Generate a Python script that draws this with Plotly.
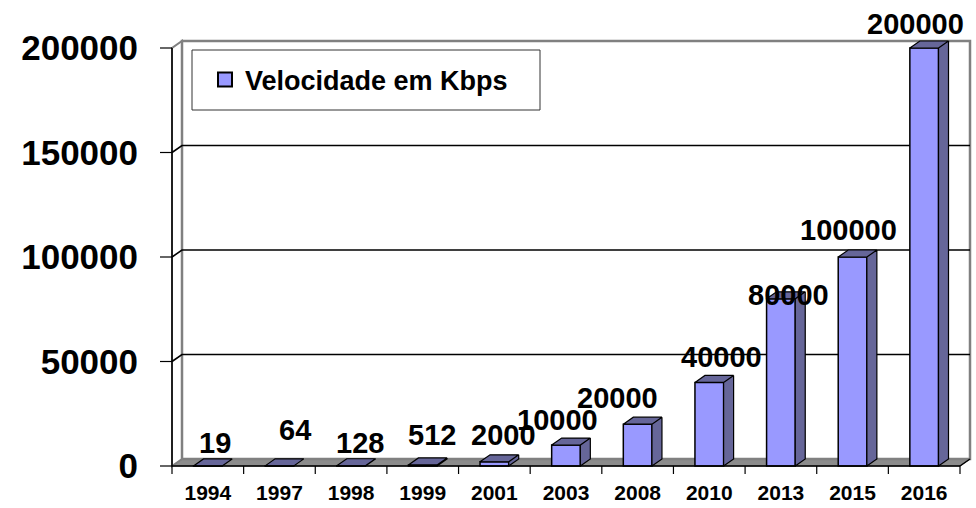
import plotly.graph_objects as go

# ---------------- data ----------------
years = ["1994", "1997", "1998", "1999", "2001", "2003", "2008", "2010", "2013", "2015", "2016"]
speeds_kbps = [19, 64, 128, 512, 2000, 10000, 20000, 40000, 80000, 100000, 200000]
y_tick_vals = [0, 50000, 100000, 150000, 200000]
y_tick_text = ["0", "50000", "100000", "150000", "200000"]
series_name = "Velocidade em Kbps"

# label nudges (pixels) mimicking the original label placement
label_dx_px = [7, 16, 9, 9, 9, -9, -20, 12, 8, -4, -9]
label_dy_px = [23, 36, 23, 30, 27, 25, 26, 25, 4, 27, 24]

# ---------------- style / geometry ----------------
FONT = "Liberation Sans, Arial, sans-serif"
FRONT = "#9999FF"
SIDE = "#666699"
FLOOR = "#8c8c8c"
WALL_EDGE = "#808080"
W, H = 976, 508
ML, MR, MT, MB = 156, 0, 30, 34
n = len(years)
x_front_left_px, x_front_right_px = 172, 960
y_zero_px, y_top_px = 466, 48
ux = (x_front_right_px - x_front_left_px) / n
ymax = y_tick_vals[-1]
uy = (y_zero_px - y_top_px) / ymax
x_range = [-0.5 - (x_front_left_px - ML) / ux, n - 0.5 + (W - MR - x_front_right_px) / ux]
y_range = [-(H - MB - y_zero_px) / uy, ymax + (y_top_px - MT) / uy]
DX = 10 / ux
DY = 7 / uy
HALF = 0.2
XL, XR = -0.5, n - 0.5

shapes = []


def path(points):
    return "M " + " L ".join(f"{x},{y}" for x, y in points) + " Z"


# floor
shapes.append(dict(type="path", xref="x", yref="y", layer="below",
                   path=path([(XL, 0), (XR, 0), (XR + DX, DY), (XL + DX, DY)]),
                   fillcolor=FLOOR, line=dict(color="#555555", width=1)))
# left side wall
shapes.append(dict(type="path", xref="x", yref="y", layer="below",
                   path=path([(XL, 0), (XL + DX, DY), (XL + DX, ymax + DY), (XL, ymax)]),
                   fillcolor="white", line=dict(color=WALL_EDGE, width=2)))
# back wall
shapes.append(dict(type="rect", xref="x", yref="y", layer="below",
                   x0=XL + DX, x1=XR + DX, y0=DY, y1=ymax + DY,
                   fillcolor="white", line=dict(color=WALL_EDGE, width=2.5)))
# gridlines
for v in y_tick_vals[1:-1]:
    shapes.append(dict(type="path", xref="x", yref="y", layer="below",
                       path=f"M {XL},{v} L {XL + DX},{v + DY} L {XR + DX},{v + DY}",
                       line=dict(color="black", width=1.6)))
# front axes
shapes.append(dict(type="line", xref="x", yref="y", x0=XL, x1=XL, y0=0, y1=ymax,
                   line=dict(color="black", width=1.5)))
shapes.append(dict(type="line", xref="x", yref="y", x0=XL, x1=XR, y0=0, y1=0,
                   line=dict(color="black", width=1.5)))
shapes.append(dict(type="line", xref="x", yref="y", x0=XR, x1=XR + DX, y0=0, y1=DY,
                   line=dict(color="black", width=1.5)))
# y ticks
for v in y_tick_vals:
    shapes.append(dict(type="line", xref="x", yref="y", x0=XL - 12 / ux, x1=XL, y0=v, y1=v,
                       line=dict(color="black", width=1.2)))
# x ticks at category boundaries
for k in range(n + 1):
    b = k - 0.5
    shapes.append(dict(type="line", xref="x", yref="y", x0=b, x1=b, y0=0, y1=-8 / uy,
                       line=dict(color="black", width=1.2)))

# legend box
pw, ph = W - ML - MR, H - MT - MB
shapes.append(dict(type="rect", xref="paper", yref="paper",
                   x0=(192 - ML) / pw, x1=(540 - ML) / pw,
                   y0=(H - MB - 110) / ph, y1=(H - MB - 50) / ph,
                   fillcolor="rgba(0,0,0,0)", line=dict(color="#333333", width=1), layer="above"))

fig = go.Figure()

# front faces
fig.add_trace(go.Bar(
    x=list(range(n)), y=speeds_kbps, width=2 * HALF, name=series_name,
    marker=dict(color=FRONT, line=dict(color="black", width=1.5)),
    showlegend=False, hoverinfo="skip"))

# side + top faces
for i, v in enumerate(speeds_kbps):
    xr, xl = i + HALF, i - HALF
    px = [xr, xr, xr + DX, xr + DX, xr, xl, xl + DX, xr + DX, xr]
    py = [v, 0, DY, v + DY, v, v, v + DY, v + DY, v]
    fig.add_trace(go.Scatter(x=px, y=py, mode="lines", fill="toself", fillcolor=SIDE,
                             line=dict(color="black", width=1.2), showlegend=False,
                             hoverinfo="skip"))

# legend entry for the series (square key as in the original)
fig.add_trace(go.Scatter(x=[None], y=[None], mode="markers", name=series_name,
                         marker=dict(symbol="square", size=14, color=FRONT,
                                     line=dict(color="black", width=2)),
                         showlegend=True))

# value labels
for i, v in enumerate(speeds_kbps):
    fig.add_annotation(x=i, y=v, xref="x", yref="y", text=str(v), showarrow=False,
                       xshift=label_dx_px[i], yshift=label_dy_px[i],
                       font=dict(family=FONT, size=29, color="black", weight="bold"))

fig.update_layout(
    width=W, height=H,
    margin=dict(l=ML, r=MR, t=MT, b=MB, pad=0),
    paper_bgcolor="white", plot_bgcolor="rgba(0,0,0,0)",
    shapes=shapes,
    showlegend=True,
    legend=dict(x=(205 - ML) / pw, y=(H - MB - 80) / ph, xanchor="left", yanchor="middle",
                bgcolor="rgba(0,0,0,0)", borderwidth=0, itemwidth=30,
                font=dict(family=FONT, size=27, color="black", weight="bold")),
    xaxis=dict(range=x_range, tickvals=list(range(n)), ticktext=years,
               showgrid=False, zeroline=False, showline=False, ticks="",
               ticklabelstandoff=4,
               tickfont=dict(family=FONT, size=21, color="black", weight="bold")),
    yaxis=dict(range=y_range, tickvals=y_tick_vals, ticktext=y_tick_text,
               showgrid=False, zeroline=False, showline=False, ticks="",
               ticklabelstandoff=17,
               tickfont=dict(family=FONT, size=35, color="black", weight="bold")),
)

fig.write_html("out.html", config={"displayModeBar": False},
               post_script="document.body.style.margin='0px';")
